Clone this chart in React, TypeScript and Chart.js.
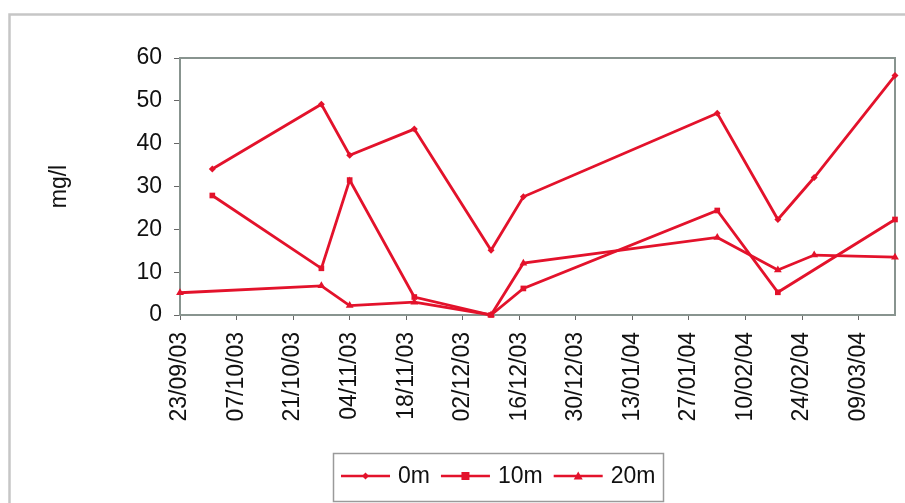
import { useEffect, useRef } from 'react';
import { Chart, registerables } from 'chart.js';

Chart.register(...registerables);

// Sampling dates and concentrations (mg/l) at each depth
const axisStart = '23/09/03';
const axisEnd = '18/03/04';
const tickLabels = [
  '23/09/03', '07/10/03', '21/10/03', '04/11/03', '18/11/03', '02/12/03', '16/12/03',
  '30/12/03', '13/01/04', '27/01/04', '10/02/04', '24/02/04', '09/03/04',
];

const dates0m = ['01/10/03', '28/10/03', '04/11/03', '20/11/03', '09/12/03', '17/12/03', '03/02/04', '18/02/04', '27/02/04', '18/03/04'];
const values0m = [34.1, 49.2, 37.3, 43.4, 15.1, 27.6, 47.1, 22.3, 32.1, 55.9];

const dates10m = ['01/10/03', '28/10/03', '04/11/03', '20/11/03', '09/12/03', '17/12/03', '03/02/04', '18/02/04', '18/03/04'];
const values10m = [27.9, 10.9, 31.5, 4.2, 0, 6.2, 24.4, 5.3, 22.3];

const dates20m = ['23/09/03', '28/10/03', '04/11/03', '20/11/03', '09/12/03', '17/12/03', '03/02/04', '18/02/04', '27/02/04', '18/03/04'];
const values20m = [5.2, 6.8, 2.2, 3.0, 0, 12.1, 18.1, 10.5, 14.0, 13.5];

const seriesNames = ['0m', '10m', '20m'];

const RED = '#e3122b';
const FONT = '"Liberation Sans", Arial, sans-serif';
const FONT_SIZE = 23;

const toUtc = (s: string) => {
  const [d, m, y] = s.split('/').map(Number);
  return Date.UTC(2000 + y, m - 1, d);
};
const dayOf = (s: string) => Math.round((toUtc(s) - toUtc(axisStart)) / 86400000);
const pts = (dates: string[], vals: number[]) => dates.map((d, i) => ({ x: dayOf(d), y: vals[i] }));

const tickDays = tickLabels.map(dayOf);

const markerStyles = ['rectRot', 'rect', 'triangle'] as const;
const markerRadii = [3.5, 4, 4.5];

function drawMarker(ctx: CanvasRenderingContext2D, style: string, x: number, y: number, r: number) {
  ctx.beginPath();
  if (style === 'rectRot') {
    ctx.moveTo(x, y - r);
    ctx.lineTo(x + r, y);
    ctx.lineTo(x, y + r);
    ctx.lineTo(x - r, y);
  } else if (style === 'rect') {
    ctx.rect(x - r, y - r, 2 * r, 2 * r);
  } else {
    ctx.moveTo(x, y - r);
    ctx.lineTo(x + r, y + r * 0.75);
    ctx.lineTo(x - r, y + r * 0.75);
  }
  ctx.closePath();
  ctx.fill();
}

const decorations = {
  id: 'decorations',
  beforeDraw(chart: any) {
    const { ctx } = chart;
    ctx.save();
    ctx.fillStyle = '#ffffff';
    ctx.fillRect(0, 0, chart.width, chart.height);
    // outer frame
    ctx.strokeStyle = '#c6c6c6';
    ctx.lineWidth = 2.5;
    ctx.beginPath();
    ctx.moveTo(9.5, chart.height);
    ctx.lineTo(9.5, 14.5);
    ctx.lineTo(chart.width, 14.5);
    ctx.stroke();
    ctx.restore();
  },
  beforeDatasetsDraw(chart: any) {
    const { ctx, chartArea: a } = chart;
    ctx.save();
    ctx.strokeStyle = '#88948f';
    ctx.lineWidth = 2;
    ctx.strokeRect(a.left, a.top, a.right - a.left, a.bottom - a.top);
    // y-axis title
    ctx.fillStyle = '#111';
    ctx.font = `${FONT_SIZE}px ${FONT}`;
    ctx.textAlign = 'center';
    ctx.textBaseline = 'middle';
    ctx.translate(60, (a.top + a.bottom) / 2);
    ctx.rotate(-Math.PI / 2);
    ctx.fillText('mg/l', 0, 0);
    ctx.restore();
  },
  afterDraw(chart: any) {
    const { ctx } = chart;
    ctx.save();
    ctx.strokeStyle = '#9a9a9a';
    ctx.lineWidth = 1.5;
    ctx.strokeRect(333.5, 453.5, 330, 48);
    ctx.font = `${FONT_SIZE}px ${FONT}`;
    ctx.textBaseline = 'middle';
    ctx.textAlign = 'left';
    const cy = 476;
    let x = 341;
    seriesNames.forEach((name, i) => {
      ctx.strokeStyle = RED;
      ctx.lineWidth = 2.5;
      ctx.beginPath();
      ctx.moveTo(x, cy);
      ctx.lineTo(x + 49, cy);
      ctx.stroke();
      ctx.fillStyle = RED;
      drawMarker(ctx, markerStyles[i], x + 24.5, cy, markerRadii[i]);
      ctx.fillStyle = '#111';
      ctx.fillText(name, x + 57, cy + 1);
      x += 57 + ctx.measureText(name).width + 11;
    });
    ctx.restore();
  },
};

export default function App() {
  const ref = useRef<HTMLCanvasElement | null>(null);

  useEffect(() => {
    if (!ref.current) return;
    const data = [pts(dates0m, values0m), pts(dates10m, values10m), pts(dates20m, values20m)];
    const chart = new Chart(ref.current, {
      type: 'line',
      data: {
        datasets: data.map((d, i) => ({
          label: seriesNames[i],
          data: d,
          borderColor: RED,
          backgroundColor: RED,
          borderWidth: 2.8,
          tension: 0,
          pointStyle: markerStyles[i],
          pointRadius: markerRadii[i],
          pointBorderWidth: 0,
          clip: 10,
        })),
      },
      options: {
        animation: false,
        responsive: false,
        maintainAspectRatio: false,
        layout: { padding: { top: 58, right: 10, bottom: 58, left: 0 } },
        plugins: { legend: { display: false }, tooltip: { enabled: false } },
        scales: {
          x: {
            type: 'linear',
            min: 0,
            max: dayOf(axisEnd),
            afterBuildTicks: (s: any) => {
              s.ticks = tickDays.map((v) => ({ value: v }));
            },
            afterFit: (s: any) => {
              s.height = 130;
            },
            grid: { drawOnChartArea: false, drawTicks: true, tickLength: 5, color: '#666' },
            border: { display: false },
            ticks: {
              autoSkip: false,
              maxRotation: 90,
              minRotation: 90,
              padding: 12,
              color: '#111',
              font: { family: FONT, size: FONT_SIZE },
              callback: (_v: any, i: number) => tickLabels[i],
            },
          },
          y: {
            min: 0,
            max: 60,
            afterFit: (s: any) => {
              s.width = 180;
            },
            grid: { drawOnChartArea: false, drawTicks: true, tickLength: 6, color: '#666' },
            border: { display: false },
            ticks: {
              stepSize: 10,
              padding: 12,
              color: '#111',
              font: { family: FONT, size: FONT_SIZE },
            },
          },
        },
      },
      plugins: [decorations],
    } as any);
    return () => chart.destroy();
  }, []);

  return (
    <div style={{ position: 'absolute', left: 0, top: 0, width: 905, height: 503 }}>
      <canvas ref={ref} width={905} height={503} style={{ display: 'block' }} />
    </div>
  );
}
